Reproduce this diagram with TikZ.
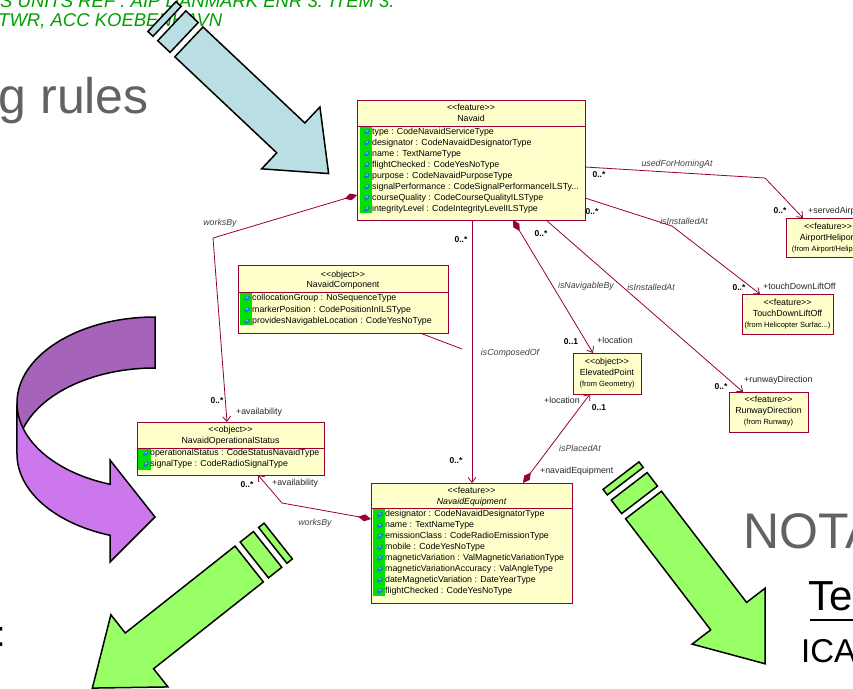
\documentclass[tikz,border=0pt]{standalone}
\usepackage{fontspec}
\setmainfont{Liberation Sans}
\usetikzlibrary{arrows.meta,calc}
\definecolor{umlred}{RGB}{153,0,51}
\definecolor{umlfill}{RGB}{255,255,204}
\definecolor{attrgreen}{RGB}{0,225,0}
\definecolor{gemblue}{RGB}{30,120,215}
\definecolor{gemlight}{RGB}{150,215,255}
\definecolor{titlegray}{RGB}{98,98,98}
\definecolor{headgreen}{RGB}{0,160,0}
\definecolor{arrowblue}{RGB}{185,223,228}
\definecolor{arrowgreen}{RGB}{153,255,102}
\definecolor{purpledark}{RGB}{165,99,186}
\definecolor{purplelight}{RGB}{204,120,236}
\newcommand\umlfont{\fontsize{8.8}{11}\selectfont}
\newcommand\fromfont{\fontsize{7.5}{9}\selectfont}
\newcommand\multfont{\fontsize{8.5}{10}\selectfont\bfseries}
\newcommand\threedots{...}
\newcommand\stereo[1]{<{}<#1>{}>}
\newcommand\stripearrow[8]{%
  \begin{scope}[shift={(#1,#2)}, rotate=#3]
    \draw[bigarrow, fill=#8] (-37,-#4) rectangle (-30,#4);
    \draw[bigarrow, fill=#8] (-23.5,-#4) rectangle (-6.5,#4);
    \draw[bigarrow, fill=#8] (0,-#4) -- (#5,-#4) -- (#5,-#6) -- ({#5+#7},0) -- (#5,#6) -- (#5,#4) -- (0,#4) -- cycle;
  \end{scope}}
\begin{document}
\begin{tikzpicture}[x=1pt,y=1pt,
  umlbox/.style={draw=umlred, fill=umlfill, line width=0.9pt, inner sep=0pt, outer sep=0pt},
  utext/.style={font=\umlfont, inner sep=0pt, anchor=mid, text=black},
  attr/.style={font=\umlfont, inner sep=0pt, anchor=mid west, text=black},
  fromtxt/.style={font=\fromfont, inner sep=0pt, anchor=mid, text=black},
  assoc/.style={draw=umlred, line width=0.8pt},
  aname/.style={font=\umlfont\itshape, inner sep=0pt, anchor=mid, text=black!75},
  mult/.style={font=\multfont, inner sep=0pt, anchor=mid, text=black},
  role/.style={font=\umlfont, inner sep=0pt, anchor=mid west, text=black!85},
  bigarrow/.style={draw=black, line width=1.5pt, line join=miter},
  divider/.style={draw=umlred, line width=0.9pt},
  >={Straight Barb[length=5pt,width=8pt]},
  gem/.pic={\fill[gemblue, rotate=40] (0,0) ellipse[x radius=3.3, y radius=1.9];
            \fill[gemlight, rotate=40] (0.5,0.6) ellipse[x radius=1.5, y radius=0.6];}
]
\useasboundingbox (0,0) rectangle (853,-688);
\fill[white] (0,0) rectangle (853,-688);
\clip (0,0) rectangle (853,-688);

% slide texts
\node[anchor=base west, inner sep=0pt, font=\fontsize{18.5}{20}\selectfont\itshape, text=headgreen] (hd1) at (0,-7) {S UNITS REF : AIP DANMARK ENR 3. ITEM 3.};
\node[anchor=base west, inner sep=0pt, font=\fontsize{18.5}{20}\selectfont\itshape, text=headgreen] (hd2) at (-2,-26.7) {TWR, ACC KOEBENHAVN};
\node[anchor=base west, inner sep=0pt, font=\fontsize{50}{56}\selectfont, text=titlegray] (title) at (-1.5,-113) {g rules};

% ---------- UML boxes ----------
\node[umlbox, minimum width=228, minimum height=120] (navaid) at (471,-160) {};
\node[umlbox, minimum width=210, minimum height=68] (comp) at (343,-299) {};
\node[umlbox, minimum width=187, minimum height=53] (opstat) at (230.5,-448.5) {};
\node[umlbox, minimum width=201, minimum height=120] (equip) at (471.5,-543) {};
\node[umlbox, minimum width=68, minimum height=41] (elev) at (607,-373.5) {};
\node[umlbox, minimum width=79, minimum height=40] (rwy) at (768.5,-412) {};
\node[umlbox, minimum width=91, minimum height=40] (tdlo) at (787.5,-314) {};
\node[umlbox, minimum width=84, minimum height=39] (airport) at (828,-237.5) {};

% Navaid
\draw[divider] (357,-126) -- (585,-126);
\node[utext] (navst) at (471,-108) {\stereo{feature}};
\node[utext] (navnm) at (471,-119) {Navaid};
\fill[attrgreen] (360,-126.5) rectangle (372,-213);
\foreach \t [count=\i] in {type : CodeNavaidServiceType, designator : CodeNavaidDesignatorType, name : TextNameType, flightChecked : CodeYesNoType, purpose : CodeNavaidPurposeType, signalPerformance : CodeSignalPerformanceILSTy\threedots, courseQuality : CodeCourseQualityILSType, integrityLevel : CodeIntegrityLevelILSType}{
  \node[attr] (nava\i) at (372,{-131.5-11*(\i-1)}) {\t};
  \pic at (367,{-131.8-11*(\i-1)}) {gem};
}

% NavaidComponent
\draw[divider] (238,-292) -- (448,-292);
\node[utext] (compst) at (343,-274.5) {\stereo{object}};
\node[utext] (compnm) at (343,-285) {NavaidComponent};
\fill[attrgreen] (240,-292.5) rectangle (252,-325);
\foreach \t [count=\i] in {collocationGroup : NoSequenceType, markerPosition : CodePositionInILSType, providesNavigableLocation : CodeYesNoType}{
  \node[attr] (compa\i) at (252,{-298-11.5*(\i-1)}) {\t};
  \pic at (247,{-298.3-11.5*(\i-1)}) {gem};
}

% NavaidOperationalStatus
\draw[divider] (137,-448) -- (324,-448);
\node[utext] (opst) at (230.5,-430) {\stereo{object}};
\node[utext] (opnm) at (230.5,-441) {NavaidOperationalStatus};
\fill[attrgreen] (138,-448.5) rectangle (151,-470);
\foreach \t [count=\i] in {operationalStatus : CodeStatusNavaidType, signalType : CodeRadioSignalType}{
  \node[attr] (opa\i) at (150,{-453-11*(\i-1)}) {\t};
  \pic at (146,{-453.3-11*(\i-1)}) {gem};
}

% NavaidEquipment
\draw[divider] (371,-508) -- (572,-508);
\node[utext] (eqst) at (471.5,-491) {\stereo{feature}};
\node[utext, font=\umlfont\itshape] (eqnm) at (471.5,-502) {NavaidEquipment};
\fill[attrgreen] (373,-508.5) rectangle (385,-596);
\foreach \t [count=\i] in {designator : CodeNavaidDesignatorType, name : TextNameType, emissionClass : CodeRadioEmissionType, mobile : CodeYesNoType, magneticVariation : ValMagneticVariationType, magneticVariationAccuracy : ValAngleType, dateMagneticVariation : DateYearType, flightChecked : CodeYesNoType}{
  \node[attr] (eqa\i) at (385,{-514.3-10.9*(\i-1)}) {\t};
  \pic at (380,{-514.6-10.9*(\i-1)}) {gem};
}

% small boxes
\node[utext] (elst) at (607,-362) {\stereo{object}};
\node[utext] (elnm) at (607,-373) {ElevatedPoint};
\node[fromtxt] (elfr) at (607,-383.5) {(from Geometry)};
\node[utext] (rwst) at (768.5,-400) {\stereo{feature}};
\node[utext] (rwnm) at (768.5,-411) {RunwayDirection};
\node[fromtxt] (rwfr) at (768.5,-421.5) {(from Runway)};
\node[utext] (tdst) at (787.5,-302.5) {\stereo{feature}};
\node[utext] (tdnm) at (787.5,-314) {TouchDownLiftOff};
\node[fromtxt] (tdfr) at (787.5,-324.5) {(from Helicopter Surfac\threedots)};
\node[utext] (apst) at (828,-226.5) {\stereo{feature}};
\node[utext] (apnm) at (828,-237.5) {AirportHeliport};
\node[fromtxt] (apfr) at (828,-248.5) {(from Airport/Heliport)};

% ---------- connectors ----------
\coordinate (w1) at (765,-178);
\coordinate (w2) at (672,-226);
\coordinate (w3) at (213,-238);
\coordinate (w4) at (282,-503);
\coordinate (acend) at (462,-349);

\draw[assoc, ->] ($(navaid.north east)+(0,-67)$) -- (w1) -- ($(airport.north west)+(17,0)$);
\draw[assoc, ->] ($(navaid.north east)+(0,-98)$) -- (w2) -- ($(tdlo.north west)+(18,0)$);
\draw[assoc, ->] ($(navaid.south west)+(189,0)$) -- ($(rwy.north west)+(14,0)$);
\draw[assoc, {Diamond[length=13pt,width=7pt]}->] ($(navaid.south west)+(156,0)$) -- ($(elev.north west)+(20,0)$);
\draw[assoc, ->] ($(navaid.south west)+(115,0)$) -- ($(equip.north west)+(101,0)$);
\draw[assoc, {Diamond[length=13pt,width=7pt]}->] ($(navaid.north west)+(0,-95)$) -- (w3) -- ($(opstat.north west)+(90,0)$);
\draw[assoc, {Diamond[length=13pt,width=7pt]}->] ($(equip.north west)+(0,-36)$) -- (w4) -- ($(opstat.south west)+(121,0)$);
\draw[assoc, {Diamond[length=13pt,width=7pt]}->] ($(equip.north west)+(152,0)$) -- ($(elev.south west)+(17,0)$);
\draw[assoc] ($(comp.south west)+(182,0)$) -- (acend);

% connector labels
\node[aname] (lused) at (677,-164) {usedForHomingAt};
\node[mult] (m1) at (599,-175) {0..*};
\node[mult] (m2) at (780,-211) {0..*};
\node[role] (r1) at (808,-211) {+servedAirport};
\node[aname] (linst1) at (684,-222) {isInstalledAt};
\node[mult] (m3) at (592,-212) {0..*};
\node[mult] (m4) at (739,-288) {0..*};
\node[role] (r2) at (763,-287) {+touchDownLiftOff};
\node[aname] (linst2) at (651,-288) {isInstalledAt};
\node[mult] (m5) at (541,-234) {0..*};
\node[mult] (m6) at (721,-387) {0..*};
\node[role] (r3) at (744,-380) {+runwayDirection};
\node[aname] (lnav) at (586,-286) {isNavigableBy};
\node[mult] (m7) at (571,-342) {0..1};
\node[role] (r4) at (597,-341) {+location};
\node[mult] (m8) at (461,-240) {0..*};
\node[aname] (lcomp) at (510,-353) {isComposedOf};
\node[mult] (m9) at (456,-461) {0..*};
\node[role] (r5) at (544,-401) {+location};
\node[mult] (m10) at (599,-408) {0..1};
\node[aname] (lplaced) at (580,-449) {isPlacedAt};
\node[role] (r6) at (540,-471) {+navaidEquipment};
\node[aname] (lworks1) at (220,-223) {worksBy};
\node[mult] (m11) at (217,-401) {0..*};
\node[role] (r7) at (236,-412) {+availability};
\node[mult] (m12) at (247,-485) {0..*};
\node[role] (r8) at (272,-483) {+availability};
\node[aname] (lworks2) at (315,-523) {worksBy};

% bottom slide texts
\node[anchor=base west, inner sep=0pt, font=\fontsize{50}{56}\selectfont, text=titlegray] (nota) at (743,-548) {NOTA};
\node[anchor=base west, inner sep=0pt, font=\fontsize{42}{46}\selectfont, text=black] (te) at (808,-610) {Te};
\draw[line width=2pt] (810,-620) -- (860,-620);
\node[anchor=base west, inner sep=0pt, font=\fontsize{33}{38}\selectfont, text=black] (ica) at (801,-662) {ICA};
\node[anchor=base west, inner sep=0pt, font=\fontsize{36}{40}\selectfont, text=black] (colon) at (-4.5,-646) {:};

% ---------- purple curved arrow ----------
\draw[bigarrow, fill=purpledark] (155,-317) arc[start angle=90, end angle=180, x radius=138, y radius=86]
  -- (17,-454) arc[start angle=180, end angle=90, x radius=138, y radius=86] -- cycle;
\draw[bigarrow, fill=purplelight] (17,-403) arc[start angle=180, end angle=250.97, x radius=138, y radius=86]
  -- (110,-460) -- (155,-517) -- (110,-562) -- (110,-535.3)
  arc[start angle=250.97, end angle=180, x radius=138, y radius=86] -- cycle;

% ---------- striped arrows ----------
\stripearrow{188.9}{-41.9}{-43.3}{20.5}{140}{42.5}{52}{arrowblue}
\stripearrow{249.2}{-564}{218.35}{22.8}{140}{46}{60}{arrowgreen}
\stripearrow{643.5}{-505}{-52.55}{22.6}{140}{46}{60}{arrowgreen}
\end{tikzpicture}
\end{document}
